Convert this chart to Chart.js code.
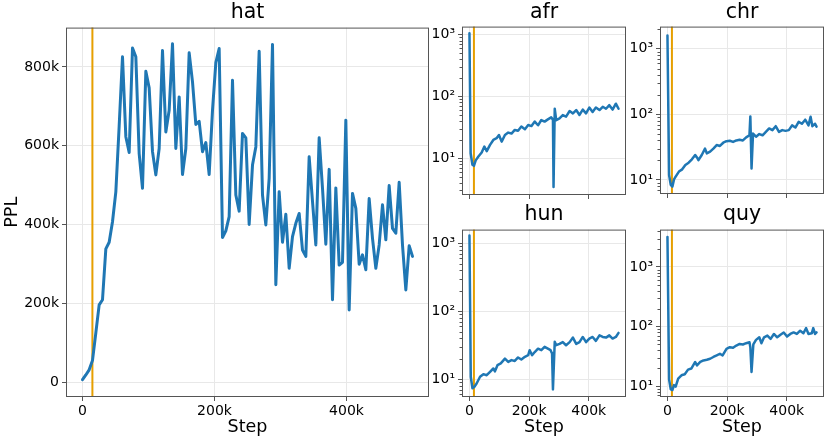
<!DOCTYPE html>
<html>
<head>
<meta charset="utf-8">
<script src="https://cdn.jsdelivr.net/npm/chart.js@4.4.0/dist/chart.umd.min.js"></script>
<style>
  body { margin: 0; background: #fff; width: 831px; height: 442px; overflow: hidden; position: relative; }
  .panel { position: absolute; }
</style>
</head>
<body>
<div class="panel" style="left:0;top:0;width:429px;height:442px"><canvas id="hatChart"></canvas></div>
<div class="panel" style="left:430px;top:0;width:196px;height:200px"><canvas id="afrChart"></canvas></div>
<div class="panel" style="left:628px;top:0;width:196px;height:200px"><canvas id="chrChart"></canvas></div>
<div class="panel" style="left:430px;top:202px;width:196px;height:240px"><canvas id="hunChart"></canvas></div>
<div class="panel" style="left:628px;top:202px;width:196px;height:240px"><canvas id="quyChart"></canvas></div>
<script>
// ---- data ----
// hat: perplexity (in thousands), evenly sampled from step 0 to 500k
const hatPpl = [6, 18, 31, 55, 125, 196, 209, 338, 355, 407,
  483, 650, 826, 623, 583, 848, 826, 580, 492, 789,
  747, 585, 526, 593, 842, 635, 690, 859, 593, 724,
  527, 593, 836, 762, 654, 662, 585, 608, 527, 690,
  811, 847, 367, 384, 420, 766, 475, 434, 631, 620,
  400, 551, 597, 840, 475, 399, 517, 857, 247, 483,
  355, 426, 289, 369, 403, 428, 335, 319, 572, 459,
  348, 620, 492, 350, 540, 209, 493, 297, 304, 665,
  183, 479, 441, 299, 323, 285, 466, 365, 289, 348,
  450, 361, 499, 390, 378, 507, 348, 234, 346, 319];
const hatLastStep = 500000;

// small panels: step (k) and perplexity
const afrSteps = [0, 4, 10, 15, 21, 30, 41, 50, 58, 69, 80, 91, 99, 108, 119, 130, 141, 152, 163, 174,
  186, 197, 208, 219, 230, 241, 252, 263, 274, 280, 282, 286, 291, 302, 313, 324, 336, 347, 358, 369,
  380, 391, 402, 413, 424, 436, 447, 458, 469, 480, 491, 500];
const afrPpl = [1050, 12, 7.8, 7.5, 9.2, 10.6, 12.3, 15.4, 13, 16.4, 19.7, 21, 23.7, 18.5, 23.7, 25.9, 25, 28.6, 27.8, 32.4,
  29.3, 34.4, 33, 39, 34, 41.4, 39, 42.4, 45.7, 42, 3.4, 63, 41, 44, 49.8, 47, 58, 53, 60, 50,
  61, 53, 66, 56, 66, 60, 67.8, 63, 72, 61, 76, 63];

const chrSteps = [0, 5.5, 11, 16.5, 22, 27.5, 38.5, 49.5, 60, 71, 82, 93, 99, 104, 115, 126, 132, 143, 154, 165,
  176, 187, 198, 209, 220, 231, 242, 253, 264, 275, 278, 282, 287, 297, 308, 319, 330, 341, 352, 363,
  374, 385, 396, 407, 418, 429, 440, 451, 462, 473, 480, 486, 495, 500];
const chrPpl = [1600, 11.9, 8.4, 7.9, 10.2, 11.2, 13.4, 14.5, 16.9, 18.3, 20.6, 24, 22, 20, 24, 30, 25.4, 27, 30, 34,
  33, 36.9, 39, 39.5, 38, 40, 41, 40, 44.5, 48, 93, 15, 51, 45.6, 50, 48, 54, 61, 57.5, 66,
  54, 57.5, 56, 57.5, 68, 63, 77, 72, 83, 68, 92, 66, 72, 65];

const hunSteps = [0, 4.4, 10, 16.7, 24, 35.5, 46.7, 57.8, 69, 80, 85.5, 94, 105, 119, 130, 141, 152, 163, 174, 186,
  197, 202, 210, 219, 230, 241, 252, 263, 272, 277, 280, 286, 291, 302, 313, 324, 336, 347, 358, 369,
  380, 391, 402, 413, 424, 436, 447, 458, 469, 480, 491, 500];
const hunPpl = [1300, 10.8, 7.3, 7.7, 8.6, 10.8, 11.8, 11.4, 12.8, 14.3, 13, 16, 17, 20, 17.9, 19, 18.5, 20.8, 19.4, 21.3,
  22.5, 26.6, 22.5, 25, 28, 26.6, 29.8, 28, 26.6, 23.8, 7.05, 35.3, 31.5, 33, 35, 31.5, 35, 40.8, 33, 35,
  41.7, 35, 39.5, 41.7, 36.5, 44, 41.7, 40.8, 44, 39.5, 41.7, 47.8];

const quySteps = [0, 5.5, 11, 16.5, 22, 27.5, 36, 47, 58, 69, 80, 93, 99, 110, 121, 132, 143, 154, 165, 176,
  185, 198, 209, 220, 231, 242, 253, 264, 275, 278, 282, 288, 297, 308, 315, 324, 335, 346, 357, 368,
  379, 390, 401, 412, 423, 434, 445, 456, 465, 473, 484, 489, 495, 500];
const quyPpl = [3200, 12.9, 8.8, 8.6, 10.4, 9.8, 13.4, 15.2, 15.8, 18.9, 19.7, 25.4, 22.3, 25.4, 27, 27.7, 28.8, 30.8, 32.7, 34.9,
  32.7, 42.3, 45, 44, 48, 51, 50, 52.5, 54.6, 45, 17.3, 50, 59.7, 66, 52.5, 66, 70.5, 62, 75, 66,
  73, 79.6, 67.8, 75, 79.6, 75, 85, 77, 94, 75, 77, 94, 75, 79.6];

// tick labels
const stepTicks = [0, 200000, 400000];
const hatTicks = [0, 200000, 400000, 600000, 800000];
const logTicks = [10, 100, 1000];
const logLabels = { 10: '10\u00B9', 100: '10\u00B2', 1000: '10\u00B3' };
const warmupStep = 15000;

// ---- style ----
const FONT = "'DejaVu Sans', sans-serif";
const GRID = '#e8e8e8';
const FRAME = '#555555';
const BLUE = '#1f77b4';
const ORANGE = '#e69f00';

Chart.defaults.font.family = FONT;
Chart.defaults.color = '#000';

const kLabel = v => v === 0 ? '0' : (v / 1000) + 'k';

// orange warmup marker, frame, minor log ticks
const panelDecor = {
  id: 'panelDecor',
  beforeDatasetsDraw(chart) {
    const { ctx, chartArea: a, scales: { x } } = chart;
    const px = x.getPixelForValue(warmupStep);
    ctx.save();
    ctx.strokeStyle = ORANGE;
    ctx.lineWidth = 2;
    ctx.beginPath();
    ctx.moveTo(px, a.top);
    ctx.lineTo(px, a.bottom);
    ctx.stroke();
    ctx.restore();
  },
  afterDraw(chart) {
    const { ctx, chartArea: a, scales: { y } } = chart;
    ctx.save();
    ctx.strokeStyle = FRAME;
    ctx.lineWidth = 1;
    ctx.strokeRect(a.left + 0.5, a.top + 0.5, a.width - 1, a.height - 1);
    if (y.type === 'logarithmic') {
      ctx.beginPath();
      for (let d = 1; d <= 1000; d *= 10) {
        for (let k = 2; k <= 9; k++) {
          const v = k * d;
          if (v <= y.min || v >= y.max) continue;
          const py = Math.round(y.getPixelForValue(v)) + 0.5;
          ctx.moveTo(a.left - 2.5, py);
          ctx.lineTo(a.left, py);
        }
      }
      ctx.stroke();
    }
    ctx.restore();
  }
};

function xScale(showLabels, height) {
  return {
    type: 'linear',
    min: -25000,
    max: 525000,
    afterBuildTicks: s => { s.ticks = stepTicks.map(v => ({ value: v })); },
    afterFit: s => { s.height = height; s.paddingLeft = 0; s.paddingRight = 0; },
    ticks: { display: showLabels, callback: kLabel, font: { size: 14 }, padding: 2, maxRotation: 0, autoSkip: false },
    grid: { color: GRID, tickColor: FRAME, tickLength: 4 },
    border: { display: false },
    title: { display: showLabels, text: 'Step', font: { size: 17.5 }, padding: { top: 0, bottom: 4 } }
  };
}

function buildPanel(canvasId, cfg) {
  const ctx = document.getElementById(canvasId);
  return new Chart(ctx, {
    type: 'line',
    data: {
      datasets: [{
        data: cfg.points,
        borderColor: BLUE,
        borderWidth: cfg.lineWidth,
        pointRadius: 0,
        tension: 0,
        borderJoinStyle: 'round',
        borderCapStyle: 'round'
      }]
    },
    options: {
      responsive: true,
      maintainAspectRatio: false,
      animation: false,
      parsing: false,
      layout: { padding: 0, autoPadding: false },
      plugins: {
        legend: { display: false },
        tooltip: { enabled: false },
        title: {
          display: true, text: cfg.title, fullSize: false,
          font: { size: 20.5, weight: 'normal' }, color: '#000',
          padding: { top: 0, bottom: cfg.titlePad }
        }
      },
      scales: {
        x: xScale(cfg.showX, cfg.xHeight),
        y: cfg.y
      }
    },
    plugins: [panelDecor]
  });
}

function logY(min, max) {
  return {
    type: 'logarithmic',
    min, max,
    afterBuildTicks: s => { s.ticks = logTicks.map(v => ({ value: v })); },
    afterFit: s => { s.width = 32; s.paddingTop = 0; s.paddingBottom = 0; },
    ticks: { callback: v => logLabels[v] || '', font: { size: 14 }, padding: 3, autoSkip: false },
    grid: { color: GRID, tickColor: FRAME, tickLength: 4 },
    border: { display: false }
  };
}

const toPoints = (steps, vals) => steps.map((s, i) => ({ x: s * 1000, y: vals[i] }));

buildPanel('hatChart', {
  title: 'hat',
  titlePad: 3,
  points: hatPpl.map((v, i) => ({ x: i * hatLastStep / (hatPpl.length - 1), y: v * 1000 })),
  lineWidth: 3,
  showX: true,
  xHeight: 45,
  y: {
    type: 'linear',
    min: -38000,
    max: 900000,
    afterBuildTicks: s => { s.ticks = hatTicks.map(v => ({ value: v })); },
    afterFit: s => { s.width = 66; s.paddingTop = 0; s.paddingBottom = 0; },
    ticks: { callback: kLabel, font: { size: 14 }, padding: 3, autoSkip: false },
    grid: { color: GRID, tickColor: FRAME, tickLength: 4 },
    border: { display: false },
    title: { display: true, text: 'PPL', font: { size: 17.5 }, padding: { top: 2, bottom: 0 } }
  }
});

buildPanel('afrChart', { title: 'afr', titlePad: 2, points: toPoints(afrSteps, afrPpl), lineWidth: 2.5, showX: false, xHeight: 5, y: logY(2.53, 1346) });
buildPanel('chrChart', { title: 'chr', titlePad: 2, points: toPoints(chrSteps, chrPpl), lineWidth: 2.5, showX: false, xHeight: 6, y: logY(6.1, 2180) });
buildPanel('hunChart', { title: 'hun', titlePad: 3, points: toPoints(hunSteps, hunPpl), lineWidth: 2.5, showX: true, xHeight: 45, y: logY(5.44, 1590) });
buildPanel('quyChart', { title: 'quy', titlePad: 3, points: toPoints(quySteps, quyPpl), lineWidth: 2.5, showX: true, xHeight: 45, y: logY(6.56, 4240) });
</script>
</body>
</html>
